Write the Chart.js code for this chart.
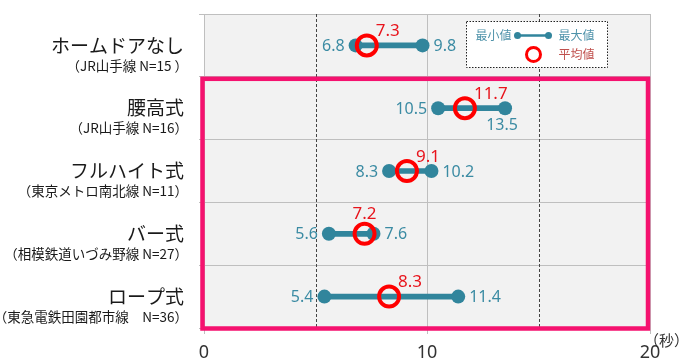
<!DOCTYPE html>
<html lang="ja">
<head>
<meta charset="utf-8">
<title>ホームドア種別 所要時間</title>
<script src="https://cdn.jsdelivr.net/npm/chart.js@4/dist/chart.umd.min.js"></script>
<style>
    html, body { margin: 0; padding: 0; background: #ffffff; }
    canvas { display: block; }
</style>
</head>
<body>
<canvas id="myChart" width="679" height="363"></canvas>
<script>
'use strict';

// 種別ごとの最小値・最大値・平均値（秒）
const categories = ['ホームドアなし', '腰高式', 'フルハイト式', 'バー式', 'ロープ式'];
const subLabels = [
    '（JR山手線 N=15 ）',
    '（JR山手線 N=16）',
    '（東京メトロ南北線 N=11）',
    '（相模鉄道いづみ野線 N=27）',
    '（東急電鉄田園都市線　N=36）'
];
const minValues = [6.8, 10.5, 8.3, 5.6, 5.4];
const maxValues = [9.8, 13.5, 10.2, 7.6, 11.4];
const avgValues = [7.3, 11.7, 9.1, 7.2, 8.3];
const xTickLabels = [0, 10, 20];

const TEAL = '#31859c';
const TEAL_TEXT = '#3b8ba3';
const RED = '#ff0000';
const RED_TEXT = '#e8141c';
const PINK = '#f5126f';
const GRID = '#bfbfbf';
const NUM_FONT = '"Noto Sans", "Noto Sans CJK JP", sans-serif';
const JP_FONT = '"Noto Sans CJK JP", "Noto Sans", sans-serif';

// ラベルの置き場所（最大値ラベル / 平均値ラベル）
const maxLabelPlace = ['right', 'below', 'right', 'right', 'right'];
const avgLabelPlace = ['upright', 'upright', 'upright', 'up', 'upright'];

let plotBackground = {
    id: 'plotBackground',
    beforeDraw(chart) {
        const { ctx, chartArea: a } = chart;
        ctx.save();
        ctx.fillStyle = '#f2f2f2';
        ctx.fillRect(a.left, a.top, a.right - a.left, a.bottom - a.top);
        ctx.restore();
    }
};

let dashedGuides = {
    id: 'dashedGuides',
    beforeDatasetsDraw(chart) {
        const { ctx, chartArea: a, scales } = chart;
        ctx.save();
        ctx.strokeStyle = '#444444';
        ctx.lineWidth = 1;
        ctx.setLineDash([3, 2]);
        [5, 15].forEach(v => {
            const x = Math.round(scales.x.getPixelForValue(v)) + 0.5;
            ctx.beginPath();
            ctx.moveTo(x, a.top);
            ctx.lineTo(x, a.bottom);
            ctx.stroke();
        });
        ctx.restore();
    }
};

let valueLabels = {
    id: 'valueLabels',
    afterDatasetsDraw(chart) {
        const { ctx, scales } = chart;
        ctx.save();
        ctx.textBaseline = 'middle';

        categories.forEach((c, i) => {
            const y = scales.y.getPixelForValue(i);
            const xMin = scales.x.getPixelForValue(minValues[i]);
            const xMax = scales.x.getPixelForValue(maxValues[i]);
            const xAvg = scales.x.getPixelForValue(avgValues[i]);

            ctx.font = '16px ' + NUM_FONT;
            ctx.fillStyle = TEAL_TEXT;
            ctx.textAlign = 'right';
            ctx.fillText(minValues[i].toFixed(1), xMin - 11, y + 1);

            if (maxLabelPlace[i] === 'below') {
                ctx.textAlign = 'center';
                ctx.fillText(maxValues[i].toFixed(1), xMax - 3, y + 17);
            } else {
                ctx.textAlign = 'left';
                ctx.fillText(maxValues[i].toFixed(1), xMax + 11, y + 1);
            }

            ctx.font = '17px ' + NUM_FONT;
            ctx.fillStyle = RED_TEXT;
            if (avgLabelPlace[i] === 'up') {
                ctx.textAlign = 'center';
                ctx.fillText(avgValues[i].toFixed(1), xAvg, y - 20);
            } else {
                ctx.textAlign = 'left';
                ctx.fillText(avgValues[i].toFixed(1), xAvg + 9, y - 14);
            }
        });
        ctx.restore();
    }
};

let highlightFrame = {
    id: 'highlightFrame',
    afterDatasetsDraw(chart) {
        const { ctx, chartArea: a, scales } = chart;
        const top = scales.y.getPixelForValue(0.5) + 2;
        ctx.save();
        ctx.strokeStyle = PINK;
        ctx.lineWidth = 4.5;
        ctx.strokeRect(a.left - 1.5, top, a.right - a.left - 0.5, a.bottom - top + 0.5);
        ctx.restore();
    }
};

let legendBox = {
    id: 'legendBox',
    afterDatasetsDraw(chart) {
        const { ctx, chartArea: a } = chart;
        const left = a.left + 262.5;
        const top = a.top + 7.5;
        const w = 141;
        const h = 46;

        ctx.save();
        ctx.fillStyle = '#ffffff';
        ctx.fillRect(left, top, w, h);
        ctx.strokeStyle = '#222222';
        ctx.lineWidth = 1;
        ctx.setLineDash([1.5, 1.5]);
        ctx.strokeRect(left, top, w, h);
        ctx.setLineDash([]);

        const row1 = top + 14;
        const row2 = top + 33;

        ctx.font = '12px ' + JP_FONT;
        ctx.textBaseline = 'middle';
        ctx.fillStyle = '#4f93aa';
        ctx.textAlign = 'left';
        ctx.fillText('最小値', left + 9, row1);
        ctx.fillText('最大値', left + 92, row1);

        ctx.strokeStyle = TEAL;
        ctx.lineWidth = 2.5;
        ctx.beginPath();
        ctx.moveTo(left + 51, row1);
        ctx.lineTo(left + 82, row1);
        ctx.stroke();
        ctx.fillStyle = TEAL;
        [left + 51, left + 82].forEach(x => {
            ctx.beginPath();
            ctx.arc(x, row1, 3.5, 0, Math.PI * 2);
            ctx.fill();
        });

        ctx.strokeStyle = RED;
        ctx.lineWidth = 3;
        ctx.beginPath();
        ctx.arc(left + 67, row2, 7, 0, Math.PI * 2);
        ctx.stroke();

        ctx.fillStyle = '#c0504d';
        ctx.fillText('平均値', left + 92, row2);
        ctx.restore();
    }
};

let categoryLabels = {
    id: 'categoryLabels',
    afterDraw(chart) {
        const { ctx, scales, chartArea: a } = chart;
        ctx.save();
        ctx.textBaseline = 'middle';
        ctx.textAlign = 'right';
        ctx.fillStyle = '#1a1a1a';
        categories.forEach((c, i) => {
            const y = scales.y.getPixelForValue(i);
            ctx.font = '19px ' + JP_FONT;
            ctx.fillText(c, 184, y);
            ctx.font = '13.5px ' + JP_FONT;
            ctx.fillText(subLabels[i], 188, y + 20);
        });

        // 単位
        ctx.font = '15px ' + JP_FONT;
        ctx.textAlign = 'left';
        ctx.fillStyle = '#333333';
        ctx.fillText('（秒）', a.right - 6, a.bottom + 12);
        ctx.restore();
    }
};

let chartConfig = {
    type: 'bar',
    data: {
        labels: categories,
        datasets: [
            {
                type: 'line',
                label: '平均値',
                indexAxis: 'y',
                data: avgValues,
                showLine: false,
                pointStyle: 'circle',
                pointRadius: 10,
                pointBorderWidth: 4,
                pointBorderColor: RED,
                pointBackgroundColor: 'rgba(0,0,0,0)'
            },
            {
                type: 'line',
                label: '最小値',
                indexAxis: 'y',
                data: minValues,
                showLine: false,
                pointRadius: 7,
                pointBorderWidth: 0,
                pointBackgroundColor: TEAL
            },
            {
                type: 'line',
                label: '最大値',
                indexAxis: 'y',
                data: maxValues,
                showLine: false,
                pointRadius: 7,
                pointBorderWidth: 0,
                pointBackgroundColor: TEAL
            },
            {
                label: '範囲',
                data: minValues.map((v, i) => [v, maxValues[i]]),
                backgroundColor: TEAL,
                borderWidth: 0,
                borderSkipped: false,
                barThickness: 5
            }
        ]
    },
    options: {
        indexAxis: 'y',
        responsive: false,
        animation: false,
        events: [],
        layout: {
            padding: { top: 10, right: 29, left: 0, bottom: 0 }
        },
        plugins: {
            legend: { display: false },
            tooltip: { enabled: false }
        },
        scales: {
            x: {
                type: 'linear',
                min: 0,
                max: 20,
                afterBuildTicks(scale) {
                    scale.ticks = [0, 5, 10, 15, 20].map(v => ({ value: v }));
                },
                afterFit(scale) {
                    scale.height = 35;
                },
                grid: {
                    color: ctx => (xTickLabels.includes(ctx.tick && ctx.tick.value) ? GRID : 'rgba(0,0,0,0)'),
                    tickLength: 6
                },
                border: { color: GRID },
                ticks: {
                    padding: 8,
                    color: '#333333',
                    font: { family: NUM_FONT, size: 18 },
                    callback: v => (xTickLabels.includes(v) ? String(v) : '')
                }
            },
            y: {
                type: 'category',
                offset: true,
                afterFit(scale) {
                    scale.width = 204;
                },
                grid: {
                    offset: true,
                    color: GRID,
                    tickLength: 5
                },
                border: { color: GRID },
                ticks: { display: false }
            }
        }
    },
    plugins: [plotBackground, dashedGuides, valueLabels, highlightFrame, legendBox, categoryLabels]
};

new Chart(document.getElementById('myChart'), chartConfig);
</script>
</body>
</html>
